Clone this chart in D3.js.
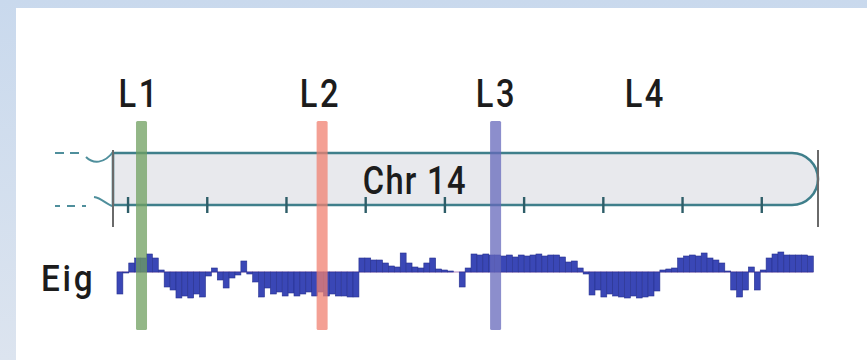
<!DOCTYPE html>
<html>
<head>
<meta charset="utf-8">
<script src="https://cdn.jsdelivr.net/npm/d3@7"></script>
<style>
  html, body { margin: 0; padding: 0; background: #ffffff; }
  svg { display: block; }
  .lab { font-family: Roboto, "Liberation Sans", sans-serif; font-weight: 500; fill: #1c1c1c; }
</style>
</head>
<body>
<svg id="chart" width="867" height="360"></svg>
<script>
// Chromosome 14 extent (Mb) and major ticks every 10 Mb
const chrStart = 18.1;
const chrEnd = 107.1;
const tickMb = [20, 30, 40, 50, 60, 70, 80, 90, 100];

// Loci of interest
const lociNames = ["L1", "L2", "L3", "L4"];
const lociMb = [21.4, 44.3, 66.5, 85.3];
const bandNames = ["L1", "L2", "L3"];
const bandMb = [21.7, 44.5, 66.4];
const bandColors = ["#6f9f5f", "#f08070", "#6668bb"];

// Compartment eigenvector, one value per bin
const eigStartMb = 18.6;
const eigBinMb = 0.745;
const eigValues = [
  -1.1, -0.05, 0.45, 0.7, 0.7, 0.9, 0.7, 0.1, -0.75, -0.9,
  -1.3, -1.2, -1.3, -1.1, -1.25, -0.2, 0.2, -0.4, -0.8, -0.3,
  -0.15, 0.55, -0.1, -0.5, -1.25, -0.8, -1.1, -1.0, -1.2, -1.05,
  -1.2, -1.1, -1.0, -1.2, -1.0, -1.2, -1.1, -1.2, -1.2, -1.25,
  -1.25, 0.7, 0.7, 0.6, 0.6, 0.45, 0.3, 0.25, 0.95, 0.45,
  0.25, 0.2, 0.45, 0.7, 0.15, 0.1, 0.05, 0.0, -0.75, 0.2,
  0.9, 0.85, 0.9, 0.85, 0.85, 0.8, 0.85, 0.75, 0.85, 0.8,
  0.85, 0.9, 0.8, 0.85, 0.85, 0.75, 0.5, 0.55, 0.2, -0.1,
  -1.15, -0.9, -1.25, -1.1, -1.2, -1.25, -1.3, -1.2, -1.3, -1.25,
  -1.2, -0.95, 0.1, 0.15, 0.2, 0.7, 0.8, 0.85, 0.8, 0.95,
  0.7, 0.6, 0.45, 0.05, -0.9, -1.25, -0.9, 0.25, -0.9, 0.1,
  0.7, 0.9, 1.0, 0.85, 0.85, 0.85, 0.85, 0.8
];

const svg = d3.select("#chart");

// Page frame
const defs = svg.append("defs");
const grad = defs.append("linearGradient").attr("id", "frameGrad")
  .attr("x1", 0).attr("y1", 0).attr("x2", 0).attr("y2", 1);
grad.append("stop").attr("offset", "0%").attr("stop-color", "#c9d9ed");
grad.append("stop").attr("offset", "100%").attr("stop-color", "#dce4ef");
svg.append("rect").attr("x", 0).attr("y", 0).attr("width", 867).attr("height", 360)
  .attr("fill", "url(#frameGrad)");
svg.append("rect").attr("x", 16).attr("y", 8).attr("width", 851).attr("height", 352)
  .attr("fill", "#ffffff");

// Scales
const x = d3.scaleLinear().domain([chrStart, chrEnd]).range([113, 818]);
const yTop = 153, yBot = 205;
const capR = (yBot - yTop) / 2;
const y = d3.scaleLinear().domain([-1.5, 1.5]).range([302, 242]);

// Condensed label helper
function label(sel, px, py, size, anchor, sx, spacing) {
  return sel.append("text").attr("class", "lab")
    .attr("transform", `translate(${px},${py}) scale(${sx},1)`)
    .attr("text-anchor", anchor)
    .attr("font-size", size)
    .attr("letter-spacing", spacing);
}

// Chromosome body
const x0 = x(chrStart), x1 = x(chrEnd);
svg.append("path")
  .attr("d", `M${x0},${yTop} H${x1 - capR} A${capR},${capR} 0 0 1 ${x1 - capR},${yBot} H${x0} Z`)
  .attr("fill", "#e8e9ed")
  .attr("stroke", "#3f7f8b")
  .attr("stroke-width", 2.6);

// Broken-off continuation on the left
const conn = svg.append("g").attr("fill", "none").attr("stroke", "#4f8f9c").attr("stroke-width", 2);
conn.append("line").attr("x1", 55).attr("x2", 85).attr("y1", yTop).attr("y2", yTop)
  .attr("stroke-dasharray", "9,6");
conn.append("path").attr("d", `M86,157 C93,164 104,164 ${x0},${yTop - 1}`);
conn.append("line").attr("x1", 55).attr("x2", 86).attr("y1", yBot + 1).attr("y2", yBot + 1)
  .attr("stroke-dasharray", "5,7,8,7");
conn.append("path").attr("d", `M94,197 C102,198 107,205 ${x0},${yBot + 1}`);

// End markers
svg.selectAll("line.endmark").data([chrStart, chrEnd]).join("line")
  .attr("class", "endmark")
  .attr("x1", d => x(d)).attr("x2", d => x(d))
  .attr("y1", 150).attr("y2", 227)
  .attr("stroke", "#6a6a6a").attr("stroke-width", 2);

// Mb ticks
svg.selectAll("line.tick").data(tickMb).join("line")
  .attr("class", "tick")
  .attr("x1", d => x(d)).attr("x2", d => x(d))
  .attr("y1", yBot - 8).attr("y2", yBot + 8)
  .attr("stroke", "#2e5e68").attr("stroke-width", 2.4);

// Chromosome label
label(svg, x(56.2), 194, 38, "middle", 0.86, 1.5).text("Chr 14");

// Eigenvector track
const binW = x(eigStartMb + eigBinMb) - x(eigStartMb);
svg.append("line")
  .attr("x1", x(eigStartMb)).attr("x2", x(eigStartMb + eigBinMb * eigValues.length))
  .attr("y1", y(0)).attr("y2", y(0))
  .attr("stroke", "#b184be").attr("stroke-width", 1);
svg.append("g").selectAll("rect").data(eigValues).join("rect")
  .attr("x", (d, i) => x(eigStartMb + i * eigBinMb))
  .attr("width", binW)
  .attr("y", d => Math.min(y(d), y(0)))
  .attr("height", d => Math.abs(y(d) - y(0)))
  .attr("fill", "#3a47b6")
  .attr("stroke", "#27318f")
  .attr("stroke-width", 0.6);

label(svg, 41, 291, 37, "start", 0.9, 3).text("Eig");

// Locus labels
lociNames.forEach((name, i) => {
  label(svg, x(lociMb[i]), 107, 38, "middle", 0.86, 3).text(name);
});

// Highlight bands over the loci
svg.selectAll("rect.band").data(bandNames).join("rect")
  .attr("class", "band")
  .attr("x", (d, i) => x(bandMb[i]) - 5.5)
  .attr("width", 11)
  .attr("y", 121).attr("height", 209)
  .attr("rx", 1.5)
  .attr("fill", (d, i) => bandColors[i])
  .attr("fill-opacity", 0.75);
</script>
</body>
</html>
